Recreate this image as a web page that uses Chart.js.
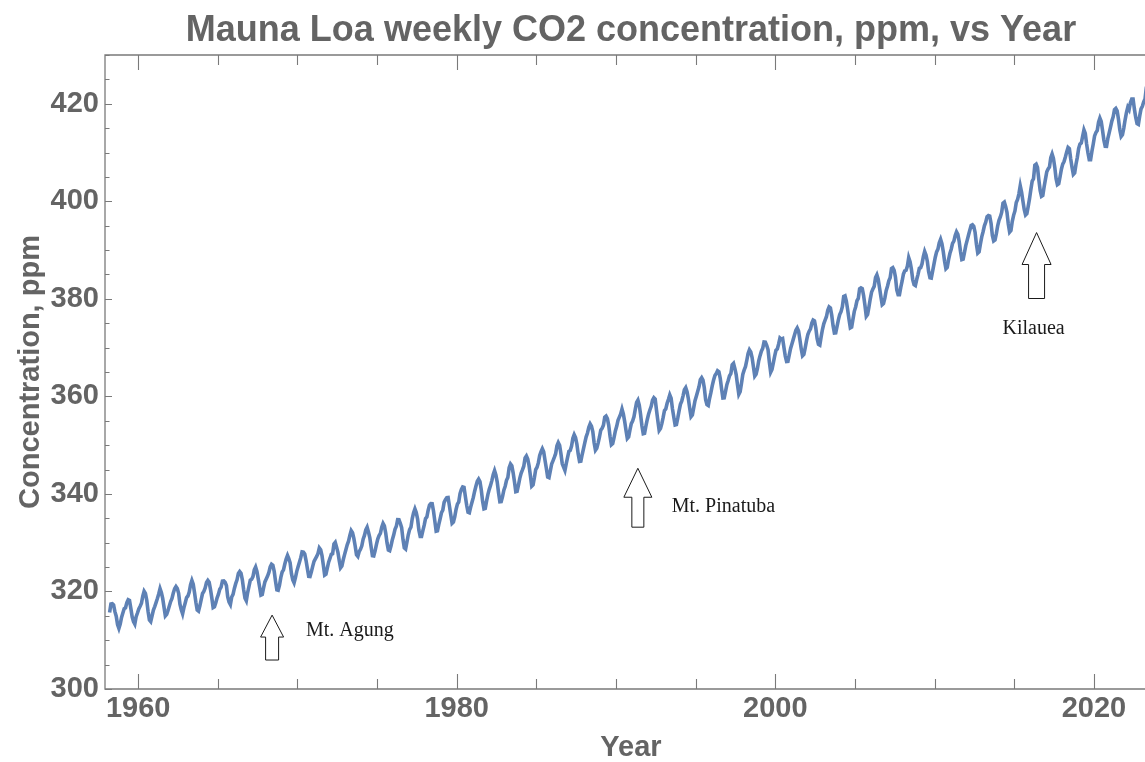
<!DOCTYPE html>
<html>
<head>
<meta charset="utf-8">
<title>Mauna Loa weekly CO2 concentration</title>
<script src="https://cdn.jsdelivr.net/npm/chart.js@4/dist/chart.umd.min.js"></script>
<style>
  html, body { margin: 0; padding: 0; background: #ffffff; overflow: hidden; }
  #wrap { width: 1145px; height: 762px; overflow: hidden; position: relative; }
  canvas { display: block; }
</style>
</head>
<body>
<div id="wrap"><canvas id="co2" width="1157" height="762"></canvas></div>
<script>
// Mauna Loa CO2, monthly means in ppm, grouped by decade.
const co2_1958_1959 = [ // Mar 1958 – Dec 1959
  315.70, 317.45, 317.51, 317.24, 315.86, 314.93, 313.20, 312.43, 313.33, 314.67,
  315.58, 316.49, 316.65, 317.72, 318.29, 318.15, 316.54, 314.80, 313.84, 313.33, 314.81, 315.58
];
const co2_1960s = [
  316.43, 316.98, 317.58, 319.03, 320.04, 319.59, 318.18, 315.90, 314.17, 313.83, 315.00, 316.19,
  316.90, 317.70, 318.54, 319.48, 320.58, 319.77, 318.57, 316.79, 314.99, 315.31, 316.10, 317.01,
  317.94, 318.55, 319.68, 320.57, 321.02, 320.62, 319.61, 317.40, 316.25, 315.42, 316.69, 317.70,
  318.74, 319.07, 319.86, 321.38, 322.25, 321.48, 319.74, 317.77, 316.21, 315.99, 317.07, 318.35,
  319.57, 320.01, 320.74, 321.84, 322.26, 321.89, 320.44, 318.69, 316.70, 316.87, 317.68, 318.71,
  319.44, 320.44, 320.89, 322.14, 322.17, 321.87, 321.21, 318.87, 317.81, 317.30, 318.87, 319.42,
  320.62, 321.60, 322.39, 323.70, 324.08, 323.75, 322.38, 320.36, 318.64, 318.10, 319.78, 321.03,
  322.33, 322.50, 323.04, 324.42, 325.00, 324.09, 322.54, 320.92, 319.25, 319.39, 320.73, 321.96,
  322.57, 323.15, 323.89, 325.02, 325.57, 325.36, 324.14, 322.11, 320.33, 320.25, 321.32, 322.89,
  324.00, 324.42, 325.63, 326.66, 327.38, 326.71, 325.88, 323.66, 322.38, 321.78, 322.85, 324.12
];
const co2_1970s = [
  325.06, 325.98, 326.93, 328.13, 328.08, 327.67, 326.34, 324.69, 323.10, 323.06, 324.01, 325.13,
  326.17, 326.68, 327.17, 327.79, 328.93, 328.57, 327.36, 325.43, 323.36, 323.56, 324.80, 326.01,
  326.77, 327.63, 327.75, 329.72, 330.07, 329.09, 328.04, 326.32, 324.84, 325.20, 326.50, 327.55,
  328.55, 329.56, 330.30, 331.50, 332.48, 332.07, 330.87, 329.31, 327.51, 327.18, 328.16, 328.64,
  329.35, 330.71, 331.48, 332.65, 333.19, 332.20, 331.07, 329.15, 327.33, 327.28, 328.31, 329.58,
  330.73, 331.46, 331.90, 333.17, 333.94, 333.45, 331.97, 329.95, 328.50, 328.36, 329.38, 330.62,
  331.56, 332.74, 333.36, 334.74, 334.72, 333.98, 333.08, 330.68, 328.96, 328.72, 330.16, 331.62,
  332.68, 333.17, 334.96, 336.14, 336.93, 336.17, 334.88, 332.56, 331.29, 331.28, 332.46, 333.60,
  334.94, 335.26, 336.66, 337.69, 338.02, 338.01, 336.50, 334.42, 332.36, 332.45, 333.76, 334.91,
  336.14, 336.69, 338.27, 338.82, 339.24, 339.26, 337.54, 335.72, 333.97, 334.24, 335.32, 336.81
];
const co2_1980s = [
  337.90, 338.34, 340.07, 340.93, 341.45, 341.36, 339.45, 337.67, 336.25, 336.14, 337.30, 338.29,
  339.29, 340.55, 341.63, 342.60, 343.04, 342.54, 340.82, 338.48, 336.95, 337.05, 338.58, 339.91,
  340.93, 341.76, 342.78, 343.96, 344.77, 343.88, 342.42, 340.24, 338.38, 338.41, 339.44, 340.78,
  341.57, 342.79, 343.37, 345.40, 346.14, 345.76, 344.32, 342.51, 340.46, 340.53, 341.79, 343.20,
  344.21, 344.92, 345.68, 347.37, 347.78, 347.16, 345.79, 343.74, 341.59, 341.86, 343.31, 345.00,
  345.48, 346.41, 347.91, 348.66, 349.28, 348.65, 346.90, 345.26, 343.47, 343.35, 344.73, 346.12,
  346.78, 347.48, 348.25, 349.86, 350.52, 349.98, 348.25, 346.17, 345.48, 344.82, 346.22, 347.49,
  348.73, 348.92, 349.81, 351.40, 352.15, 351.58, 350.21, 348.20, 346.66, 346.72, 348.08, 349.28,
  350.51, 351.70, 352.50, 353.67, 354.35, 353.88, 352.80, 350.49, 348.97, 349.37, 350.42, 351.62,
  353.07, 353.43, 354.08, 355.72, 355.95, 355.44, 354.05, 351.84, 350.09, 350.33, 351.55, 352.91
];
const co2_1990s = [
  353.86, 355.10, 355.75, 356.38, 357.38, 356.39, 354.89, 353.06, 351.38, 351.69, 353.14, 354.41,
  354.93, 355.82, 357.33, 358.77, 359.23, 358.23, 356.30, 353.97, 352.34, 352.43, 353.89, 355.21,
  356.34, 357.21, 357.97, 359.22, 359.71, 359.43, 357.15, 354.99, 353.01, 353.41, 354.42, 355.68,
  357.10, 357.42, 358.59, 359.39, 360.30, 359.64, 357.45, 355.76, 354.14, 354.23, 355.53, 357.03,
  358.36, 359.04, 360.11, 361.36, 361.78, 360.94, 359.51, 357.59, 355.86, 356.21, 357.65, 359.10,
  360.04, 361.00, 361.98, 363.44, 363.83, 363.33, 361.78, 359.33, 358.32, 358.14, 359.61, 360.82,
  362.20, 363.36, 364.28, 364.69, 365.25, 365.06, 363.69, 361.55, 359.69, 359.72, 361.04, 362.39,
  363.24, 364.21, 364.65, 366.49, 366.77, 365.73, 364.46, 362.40, 360.44, 360.98, 362.65, 364.51,
  365.39, 366.10, 367.36, 368.79, 369.56, 369.13, 367.98, 366.10, 364.16, 364.54, 365.67, 367.30,
  368.35, 369.28, 369.84, 371.15, 371.12, 370.46, 369.61, 367.06, 364.95, 365.52, 366.88, 368.26
];
const co2_2000s = [
  369.45, 369.71, 370.75, 371.98, 371.75, 371.87, 370.02, 368.27, 367.15, 367.18, 368.53, 369.83,
  370.76, 371.69, 372.63, 373.55, 374.03, 373.40, 371.68, 369.78, 368.34, 368.61, 369.94, 371.42,
  372.70, 373.37, 373.85, 375.02, 375.65, 375.50, 374.00, 371.83, 370.66, 370.51, 372.20, 373.71,
  374.87, 375.63, 376.33, 377.68, 378.35, 378.13, 376.62, 374.50, 373.00, 373.03, 374.35, 375.69,
  376.79, 377.36, 378.39, 380.50, 380.62, 379.55, 377.76, 375.83, 374.05, 374.22, 375.84, 377.44,
  378.34, 379.61, 380.08, 382.05, 382.24, 382.08, 380.67, 378.67, 376.42, 376.80, 378.31, 379.96,
  381.37, 382.02, 382.56, 384.37, 384.92, 384.03, 382.28, 380.48, 378.81, 379.06, 380.14, 381.66,
  382.58, 383.71, 384.34, 386.23, 386.41, 385.87, 384.45, 381.84, 380.86, 380.86, 382.36, 383.61,
  385.07, 385.72, 385.85, 386.71, 388.45, 387.64, 386.10, 383.95, 382.91, 382.73, 383.96, 385.02,
  386.26, 386.39, 387.16, 388.67, 389.72, 389.00, 387.71, 385.56, 384.32, 384.26, 385.68, 387.13
];
const co2_2010s = [
  388.53, 389.62, 390.19, 391.51, 392.22, 391.30, 389.72, 387.72, 386.17, 386.46, 388.05, 389.29,
  390.17, 391.37, 391.85, 392.97, 393.72, 393.23, 391.77, 389.72, 388.05, 388.15, 389.51, 390.96,
  391.99, 393.05, 394.05, 395.03, 395.17, 394.86, 393.61, 391.19, 389.39, 389.65, 391.25, 392.71,
  393.76, 394.97, 395.71, 396.86, 397.09, 396.98, 395.52, 393.00, 391.88, 392.07, 393.37, 394.95,
  396.11, 396.78, 397.71, 399.63, 399.85, 398.92, 397.75, 395.35, 393.68, 394.01, 395.89, 397.12,
  398.03, 399.74, 400.38, 401.53, 403.18, 401.88, 400.05, 398.32, 397.20, 397.47, 398.95, 400.54,
  402.44, 404.12, 404.62, 407.40, 407.62, 406.93, 404.44, 402.25, 401.02, 401.21, 403.00, 404.56,
  406.07, 406.63, 407.00, 408.94, 409.71, 408.81, 407.01, 404.65, 403.42, 403.61, 405.04, 406.58,
  407.62, 408.14, 409.09, 410.13, 411.03, 410.78, 408.72, 406.97, 405.52, 405.80, 407.60, 409.01,
  410.83, 411.75, 411.96, 413.32, 414.64, 413.93, 411.74, 409.95, 408.54, 408.53, 410.27, 411.76
];
const co2_2020s = [ // Jan 2020 – Aug 2023
  413.40, 414.11, 414.51, 416.21, 417.07, 416.38, 414.51, 412.55, 411.29, 411.28, 412.89, 414.02,
  415.23, 416.45, 417.31, 418.81, 419.06, 418.57, 416.83, 414.67, 413.31, 413.67, 415.01, 416.71,
  418.19, 419.28, 418.81, 420.23, 420.99, 420.99, 418.90, 417.19, 415.95, 415.78, 417.51, 418.95,
  419.47, 420.41, 420.99, 423.36, 424.00, 423.68, 421.83, 419.68
];

// Axis tick labels
const yearTicks = [1960, 1980, 2000, 2020];
const ppmTicks = [300, 320, 340, 360, 380, 400, 420];

// Volcanic eruption annotations (year, ppm)
const eruptionLabels = ['Mt. Agung', 'Mt. Pinatuba', 'Kilauea'];
const eruptionYears = [1968.41, 1991.37, 2016.40];

// Build {x, y} points: each monthly value sits at the middle of its month
function monthly(startYear, startMonth, values) {
  return values.map((v, i) => ({ x: startYear + (startMonth - 1 + i + 0.5) / 12, y: v }));
}
const points = [].concat(
  monthly(1958, 3, co2_1958_1959),
  monthly(1960, 1, co2_1960s),
  monthly(1970, 1, co2_1970s),
  monthly(1980, 1, co2_1980s),
  monthly(1990, 1, co2_1990s),
  monthly(2000, 1, co2_2000s),
  monthly(2010, 1, co2_2010s),
  monthly(2020, 1, co2_2020s)
);

const FONT = '"Liberation Sans", Arial, Helvetica, sans-serif';
const TEXT_GRAY = '#646464';
const AXIS_GRAY = '#7a7a7a';

// Arrow shapes and label placement for each eruption marker
const arrowStyle = [
  { tip: 315.15, headBase: 310.65, tail: 305.94, headHalf: 11.5, shaftHalf: 6.5,
    labelX: 1970.54, labelY: 311.88, align: 'left' },
  { tip: 345.26, headBase: 339.32, tail: 333.18, headHalf: 14, shaftHalf: 6,
    labelX: 1993.50, labelY: 337.27, align: 'left' },
  { tip: 393.59, headBase: 387.04, tail: 380.07, headHalf: 14.5, shaftHalf: 8,
    labelX: 2016.21, labelY: 373.93, align: 'center' }
];

// Frame with inward tick marks on all sides, plus eruption arrows
const framePlugin = {
  id: 'frame',
  afterDatasetsDraw(chart) {
    const { ctx, chartArea: a, scales: { x, y } } = chart;
    ctx.save();
    ctx.strokeStyle = AXIS_GRAY;
    ctx.lineWidth = 1.3;
    ctx.beginPath();
    ctx.rect(a.left, a.top, a.right - a.left, a.bottom - a.top);
    ctx.stroke();

    ctx.lineWidth = 1.1;
    ctx.beginPath();
    for (let yr = 1960; yr <= x.max; yr += 5) {
      const px = Math.round(x.getPixelForValue(yr)) + 0.5;
      const len = yr % 20 === 0 ? 15 : 10;
      ctx.moveTo(px, a.bottom); ctx.lineTo(px, a.bottom - len);
      ctx.moveTo(px, a.top); ctx.lineTo(px, a.top + len);
    }
    for (let v = 300; v <= y.max; v += 5) {
      const py = Math.round(y.getPixelForValue(v)) + 0.5;
      const len = v % 20 === 0 ? 7 : 4.5;
      ctx.moveTo(a.left, py); ctx.lineTo(a.left + len, py);
      ctx.moveTo(a.right, py); ctx.lineTo(a.right - len, py);
    }
    ctx.stroke();

    // Eruption arrows
    eruptionYears.forEach((yr, i) => {
      const s = arrowStyle[i];
      const px = x.getPixelForValue(yr);
      const tipY = y.getPixelForValue(s.tip);
      const baseY = y.getPixelForValue(s.headBase);
      const tailY = y.getPixelForValue(s.tail);
      ctx.beginPath();
      ctx.moveTo(px, tipY);
      ctx.lineTo(px + s.headHalf, baseY);
      ctx.lineTo(px + s.shaftHalf, baseY);
      ctx.lineTo(px + s.shaftHalf, tailY);
      ctx.lineTo(px - s.shaftHalf, tailY);
      ctx.lineTo(px - s.shaftHalf, baseY);
      ctx.lineTo(px - s.headHalf, baseY);
      ctx.closePath();
      ctx.fillStyle = '#ffffff';
      ctx.fill();
      ctx.strokeStyle = '#1a1a1a';
      ctx.lineWidth = 1;
      ctx.stroke();

      ctx.fillStyle = '#1a1a1a';
      ctx.font = '20px "Liberation Serif", "Times New Roman", serif';
      ctx.textAlign = s.align;
      ctx.textBaseline = 'middle';
      ctx.fillText(eruptionLabels[i], x.getPixelForValue(s.labelX), y.getPixelForValue(s.labelY));
    });
    ctx.restore();
  }
};

new Chart(document.getElementById('co2'), {
  type: 'line',
  data: {
    datasets: [{
      label: 'CO2, ppm',
      data: points,
      borderColor: '#5e81b5',
      borderWidth: 3.6,
      pointRadius: 0,
      tension: 0,
      fill: false
    }]
  },
  options: {
    responsive: false,
    animation: false,
    devicePixelRatio: 1,
    layout: { padding: 0 },
    plugins: {
      legend: { display: false },
      tooltip: { enabled: false },
      title: {
        display: true,
        fullSize: false,
        text: 'Mauna Loa weekly CO2 concentration, ppm, vs Year',
        color: TEXT_GRAY,
        font: { family: FONT, size: 36, weight: 'bold', lineHeight: 1.2 },
        padding: { top: 9, bottom: 2.8 }
      }
    },
    scales: {
      x: {
        type: 'linear',
        min: 1957.92,
        max: 2023.96,
        afterBuildTicks: s => { s.ticks = yearTicks.map(v => ({ value: v })); },
        afterFit: s => { s.height = 73; },
        grid: { display: false, drawTicks: false },
        border: { display: false },
        ticks: {
          padding: 3,
          color: TEXT_GRAY,
          font: { family: FONT, size: 29, weight: 'bold' },
          maxRotation: 0,
          callback: v => String(v)
        },
        title: {
          display: true,
          text: 'Year',
          color: TEXT_GRAY,
          font: { family: FONT, size: 29, weight: 'bold', lineHeight: 0.9 },
          padding: { top: 0, bottom: 1 }
        }
      },
      y: {
        type: 'linear',
        min: 300,
        max: 430,
        afterBuildTicks: s => { s.ticks = ppmTicks.map(v => ({ value: v })); },
        afterFit: s => { s.width = 105; },
        grid: { display: false, drawTicks: false },
        border: { display: false },
        ticks: {
          padding: 6,
          color: TEXT_GRAY,
          font: { family: FONT, size: 29, weight: 'bold' },
          callback: v => String(v)
        },
        title: {
          display: true,
          text: 'Concentration, ppm',
          color: TEXT_GRAY,
          font: { family: FONT, size: 29, weight: 'bold', lineHeight: 1.2 },
          padding: { top: 14, bottom: 0 }
        }
      }
    }
  },
  plugins: [framePlugin]
});
</script>
</body>
</html>
